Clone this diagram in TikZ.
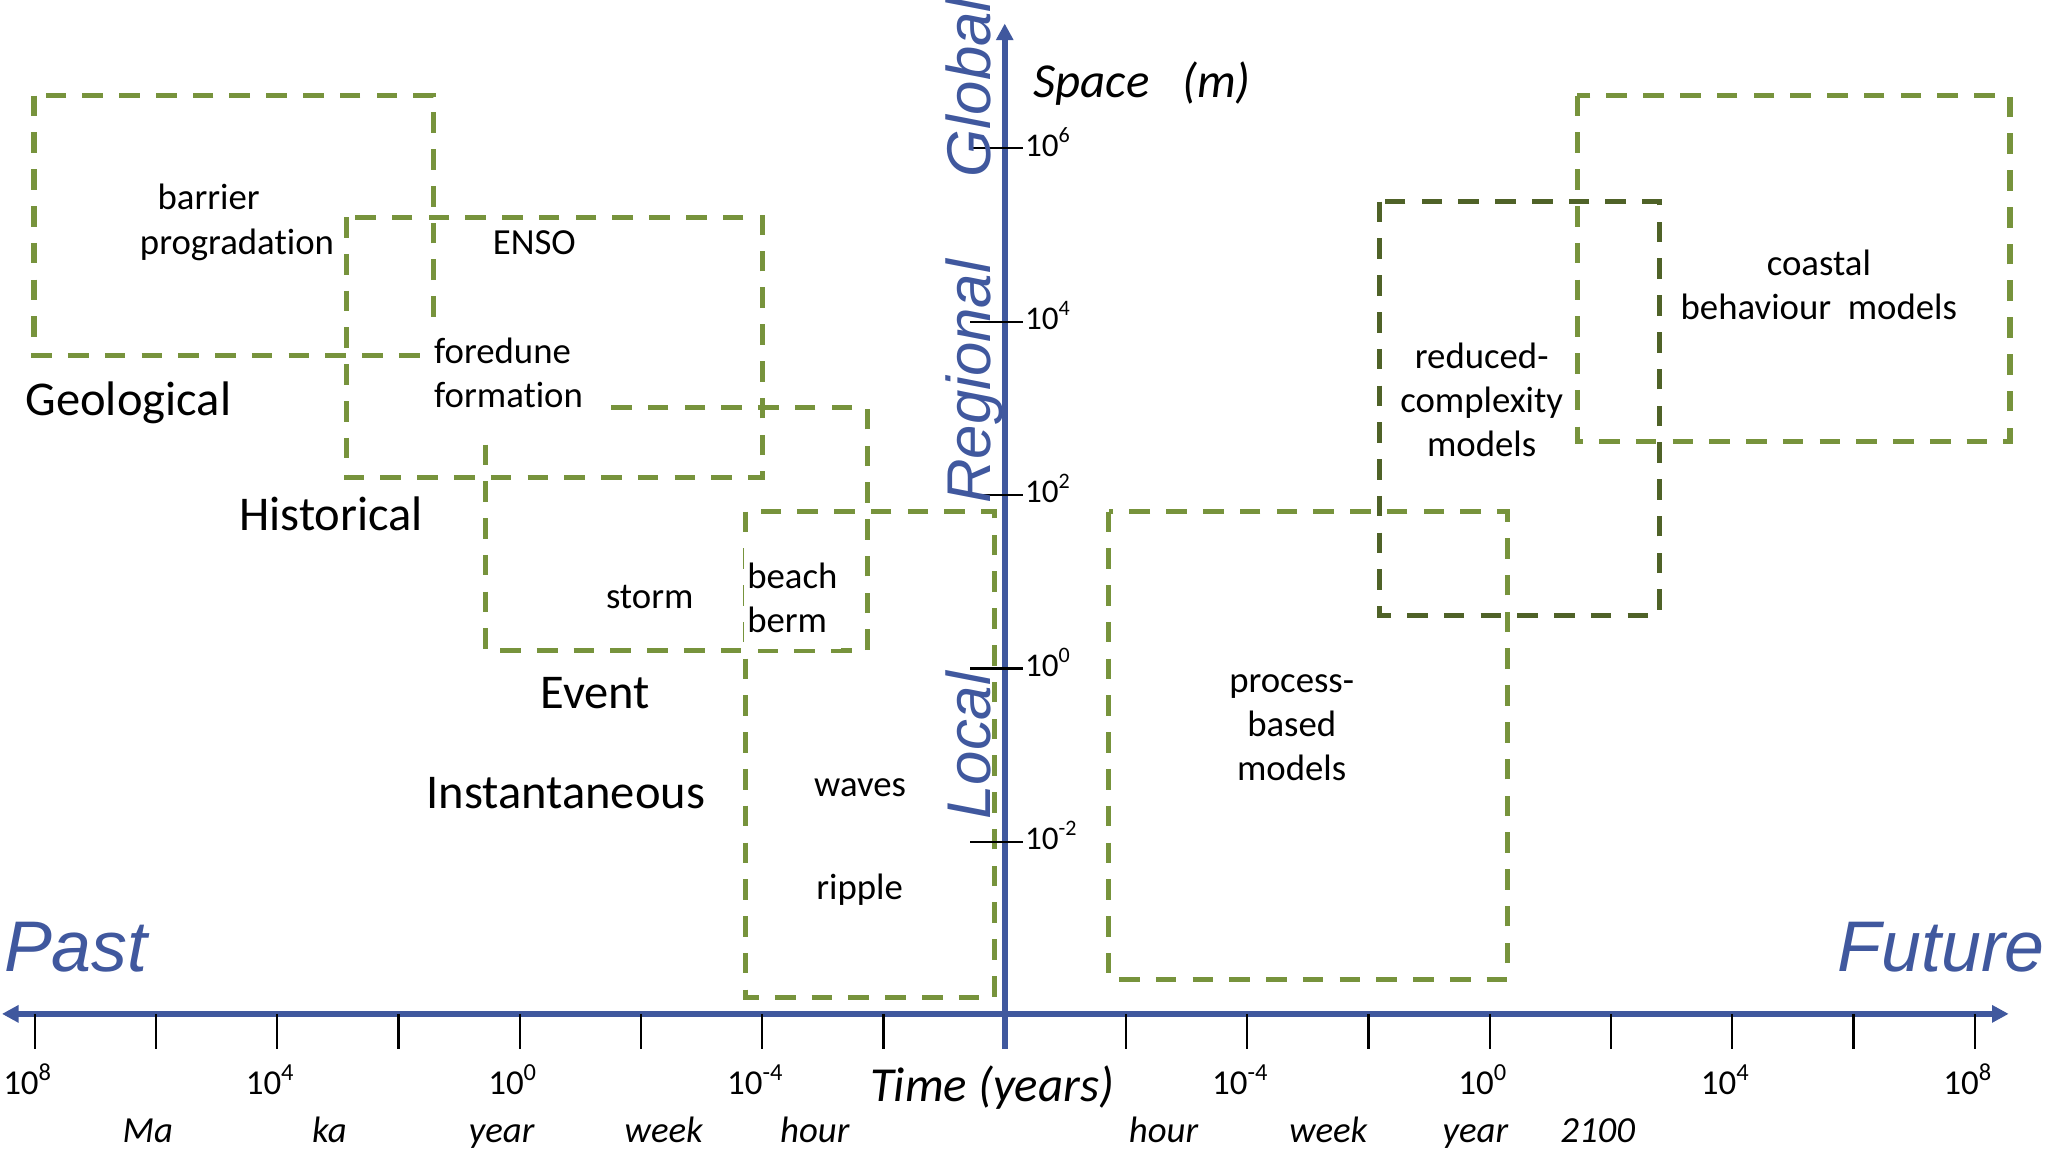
\documentclass[tikz,border=0pt]{standalone}
\usepackage{fontspec}
\setmainfont{Carlito}[Ligatures=NoCommon]
\newfontfamily\arialfont{Liberation Sans}
\usetikzlibrary{arrows.meta}
\definecolor{axisblue}{RGB}{64,88,158}
\definecolor{boxgreen}{RGB}{119,147,60}
\definecolor{darkgreen}{RGB}{79,98,40}

\begin{document}
\begin{tikzpicture}[x=0.0125cm, y=-0.0125cm,
  scalebox/.style={draw=boxgreen, line width=1.4pt, dash pattern=on 5.6pt off 4.4pt},
  axis/.style={draw=axisblue, line width=1.55pt, >={Triangle[length=4.5pt,width=4.5pt]}},
  tickmark/.style={draw=black, line width=0.6pt},
  proc/.style={inner sep=0, font=\fontsize{10}{12}\selectfont},
  era/.style={inner sep=0, anchor=base west, font=\fontsize{13.2}{15}\selectfont},
  axword/.style={inner sep=0, anchor=base west, rotate=90, text=axisblue, font=\arialfont\itshape\fontsize{16.8}{20}\selectfont},
  timeword/.style={inner sep=0, anchor=base west, text=axisblue, font=\arialfont\itshape\fontsize{19.5}{23}\selectfont},
  unit/.style={inner sep=0, anchor=base, font=\itshape\fontsize{10}{12}\selectfont}]

\useasboundingbox (0,0) rectangle (1568,882.7);

% scale boxes
\draw[scalebox] (26,73.2) rectangle (331.5,272.2);
\draw[scalebox] (265,166.1) rectangle (583.4,365.1);
\draw[scalebox] (371.4,311.9) rectangle (663.4,497.6);
\draw[scalebox] (570.5,391.3) rectangle (760.9,762.8);
\draw[scalebox] (848,391.3) rectangle (1153,749);
\draw[scalebox, draw=darkgreen] (1055,154.3) rectangle (1269,470.6);
\draw[scalebox] (1206.4,73.2) rectangle (1537.4,337.8);

% axes
\coordinate (tleft) at (1.5,775.5);
\coordinate (tright) at (1536.4,775.5);
\coordinate (sbottom) at (768.5,802);
\coordinate (stop) at (768.5,18);
\draw[axis, <->] (tleft) -- (tright);
\draw[axis, ->] (sbottom) -- (stop);

\foreach \k in {-8,...,-1,1,2,...,8}
{\draw[tickmark] (768.5+\k*92.75,775.5) -- ++(0,26.5);}

\foreach \k/\e in {-8/8,-6/4,-4/0,-2/-4,2/-4,4/0,6/4,8/8}
{\node[inner sep=0, anchor=base, font=\fontsize{9.5}{11}\selectfont] (t\k) at (763.5+\k*92.75,837) {10\textsuperscript{\e}};}

\foreach \k/\e in {0/6,1/4,2/2,3/0,4/-2}
{
\draw[tickmark] (742,113.5+\k*132.6) -- (782.7,113.5+\k*132.6);
\node[inner sep=0, anchor=base west, font=\fontsize{9}{11}\selectfont] (s\k) at (783.5,119.5+\k*132.6) {10\textsuperscript{\e}};
}

\foreach \x/\w [count=\i] in {113/Ma,252/ka,383.7/year,507.7/week,623.2/hour,890/hour,1016/week,1128.5/year,1222/2100}
{\node[unit] (u\i) at (\x,873.5) {\w};}

\node[unit, font=\itshape\fontsize{13.3}{16}\selectfont, anchor=base west] (time) at (665,842.5) {Time (years)};
\node[unit, font=\itshape\fontsize{13.3}{16}\selectfont, anchor=base west] (space) at (790,74.6) {Space\ \ \ (m)};

\node[timeword] (past) at (2.5,743.2) {Past};
\node[timeword] (future) at (1405,743.2) {Future};

\node[axword] (global) at (757.4,136) {Global};
\node[axword] (regional) at (757.4,386) {Regional};
\node[axword] (local) at (757.4,627.5) {Local};

\node[era] (geo) at (19,317.6) {Geological};
\node[era] (hist) at (182.5,406) {Historical};
\node[era] (event) at (413,541.8) {Event};
\node[era] (inst) at (325.5,618.1) {Instantaneous};

%%%%%%%%%%%%
\node[proc, align=left, anchor=base west] (barrier) at (106.5,194.3) {\hspace*{4.8pt}barrier\\progradation};
\node[proc, anchor=base] (enso) at (408.7,194.3) {ENSO};
\node[proc, align=left, anchor=base west, fill=white, inner xsep=3.5pt, inner ysep=5.5pt] (foredune) at (321.7,311.9) {foredune\\formation};
\node[proc, anchor=base] (storm) at (497,465.8) {storm};
\node[proc, align=left, anchor=base west, fill=white, inner xsep=1pt, inner ysep=4.5pt] (beach) at (568.2,483.6) {beach\\berm};
\node[proc, anchor=base] (waves) at (657.9,609.4) {waves};
\node[proc, anchor=base] (ripple) at (657.5,688.2) {ripple};
\node[proc, align=center, anchor=base] (process) at (988,596.8) {process-\\based\\models};
\node[proc, align=center, anchor=base] (reduced) at (1133.3,349.1) {reduced-\\complexity\\models};
\node[proc, align=center, anchor=base] (coastal) at (1391.2,244.4) {coastal\\behaviour\ \ models};
\end{tikzpicture}
\end{document}
